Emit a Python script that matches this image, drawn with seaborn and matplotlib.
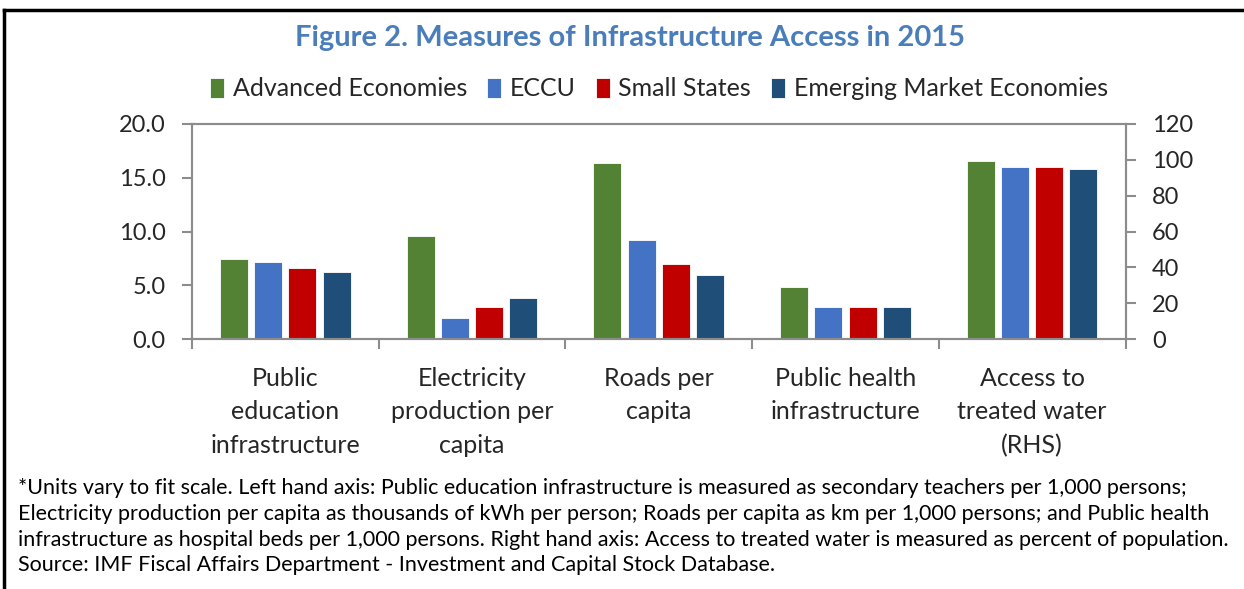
import pandas as pd
import matplotlib.pyplot as plt
import seaborn as sns
from matplotlib.lines import Line2D

# categories and series (left axis: first four, right axis: water)
categories = [
    "Public\neducation\ninfrastructure",
    "Electricity\nproduction per\ncapita",
    "Roads per\ncapita",
    "Public health\ninfrastructure",
    "Access to\ntreated water\n(RHS)",
]
groups = ["Advanced Economies", "ECCU", "Small States", "Emerging Market Economies"]
colors = ["#548235", "#4472C4", "#C00000", "#1F4E79"]

advanced = [7.4, 9.6, 16.4, 4.8, 99.5]
eccu = [7.2, 2.0, 9.2, 3.0, 96.0]
small_states = [6.6, 3.0, 7.0, 3.0, 96.0]
emerging = [6.2, 3.8, 6.0, 3.0, 95.0]

left_ticks = [0, 5, 10, 15, 20]
right_ticks = [0, 20, 40, 60, 80, 100, 120]

footnote = (
    "*Units vary to fit scale. Left hand axis: Public education infrastructure is measured as secondary teachers per 1,000 persons;\n"
    "Electricity production per capita as thousands of kWh per person; Roads per capita as km per 1,000 persons; and Public health\n"
    "infrastructure as hospital beds per 1,000 persons. Right hand axis: Access to treated water is measured as percent of population.\n"
    "Source: IMF Fiscal Affairs Department - Investment and Capital Stock Database."
)

rows = []
for g, vals in zip(groups, [advanced, eccu, small_states, emerging]):
    for c, v in zip(categories, vals):
        rows.append({"category": c, "group": g, "value": v})
df = pd.DataFrame(rows)
df_left = df[df["category"] != categories[-1]]
df_right = df[df["category"] == categories[-1]]

plt.rcParams["font.family"] = ["Lato", "DejaVu Sans"]
text_color = "#262626"
axis_color = "#8C8C8C"

fig = plt.figure(figsize=(12.44, 5.89), dpi=100)
ax = fig.add_axes([192 / 1244, 1 - 339 / 589, (1125.5 - 192) / 1244, (339 - 124) / 589])

bar_kw = dict(x="category", y="value", hue="group", order=categories,
              hue_order=groups, palette=colors, width=0.733, gap=0.18,
              saturation=1, edgecolor="white", linewidth=0.6, errorbar=None)
sns.barplot(data=df_left, ax=ax, **bar_kw)
ax2 = ax.twinx()
sns.barplot(data=df_right, ax=ax2, legend=False, **bar_kw)

ax.set_xlim(-0.5, len(categories) - 0.5)
ax.set_ylim(0, 20)
ax2.set_ylim(0, 120)
ax.set_yticks(left_ticks)
ax.set_yticklabels([f"{t:.1f}" for t in left_ticks])
ax2.set_yticks(right_ticks)
ax.set_xlabel("")
ax.set_ylabel("")
ax2.set_ylabel("")

# category boundary ticks on the x axis
ax.set_xticks([i - 0.5 for i in range(len(categories) + 1)], minor=True)
ax.tick_params(axis="x", which="major", length=0, pad=20, labelsize=18,
               labelcolor=text_color)
ax.tick_params(axis="x", which="minor", length=7, width=1.5, color=axis_color)
for lbl in ax.get_xticklabels():
    lbl.set_linespacing(1.56)
ax.tick_params(axis="y", length=7, width=1.5, color=axis_color, labelsize=17,
               labelcolor=text_color, pad=12)
ax2.tick_params(axis="y", length=7, width=1.5, color=axis_color, labelsize=17,
                labelcolor=text_color, pad=12)

for a in (ax, ax2):
    for side in a.spines.values():
        side.set_color(axis_color)
        side.set_linewidth(1.5)

handles = ax.get_legend().legend_handles
labels = [t.get_text() for t in ax.get_legend().get_texts()]
ax.get_legend().remove()
fig.legend(handles, labels, loc="center", bbox_to_anchor=(659 / 1244, 1 - 89 / 589),
           ncol=4, frameon=False, fontsize=18, handlelength=0.55,
           handleheight=0.9, handletextpad=0.35, columnspacing=0.8,
           labelcolor=text_color)

fig.text(630 / 1244, 1 - 38 / 589, "Figure 2. Measures of Infrastructure Access in 2015",
         ha="center", va="center", fontsize=21, fontweight="bold", color="#4A7EBB")

fig.text(18 / 1244, 1 - 478 / 589, footnote, ha="left", va="top", fontsize=15.5,
         color="black", linespacing=1.36)

# outer frame (left and top only)
frame = dict(color="black", linewidth=2.5, transform=fig.transFigure)
fig.add_artist(Line2D([4 / 1244, 4 / 1244], [0, 1 - 10 / 589], **frame))
fig.add_artist(Line2D([4 / 1244, 1], [1 - 10 / 589, 1 - 10 / 589], **frame))

fig.savefig("out.png", dpi=100)
